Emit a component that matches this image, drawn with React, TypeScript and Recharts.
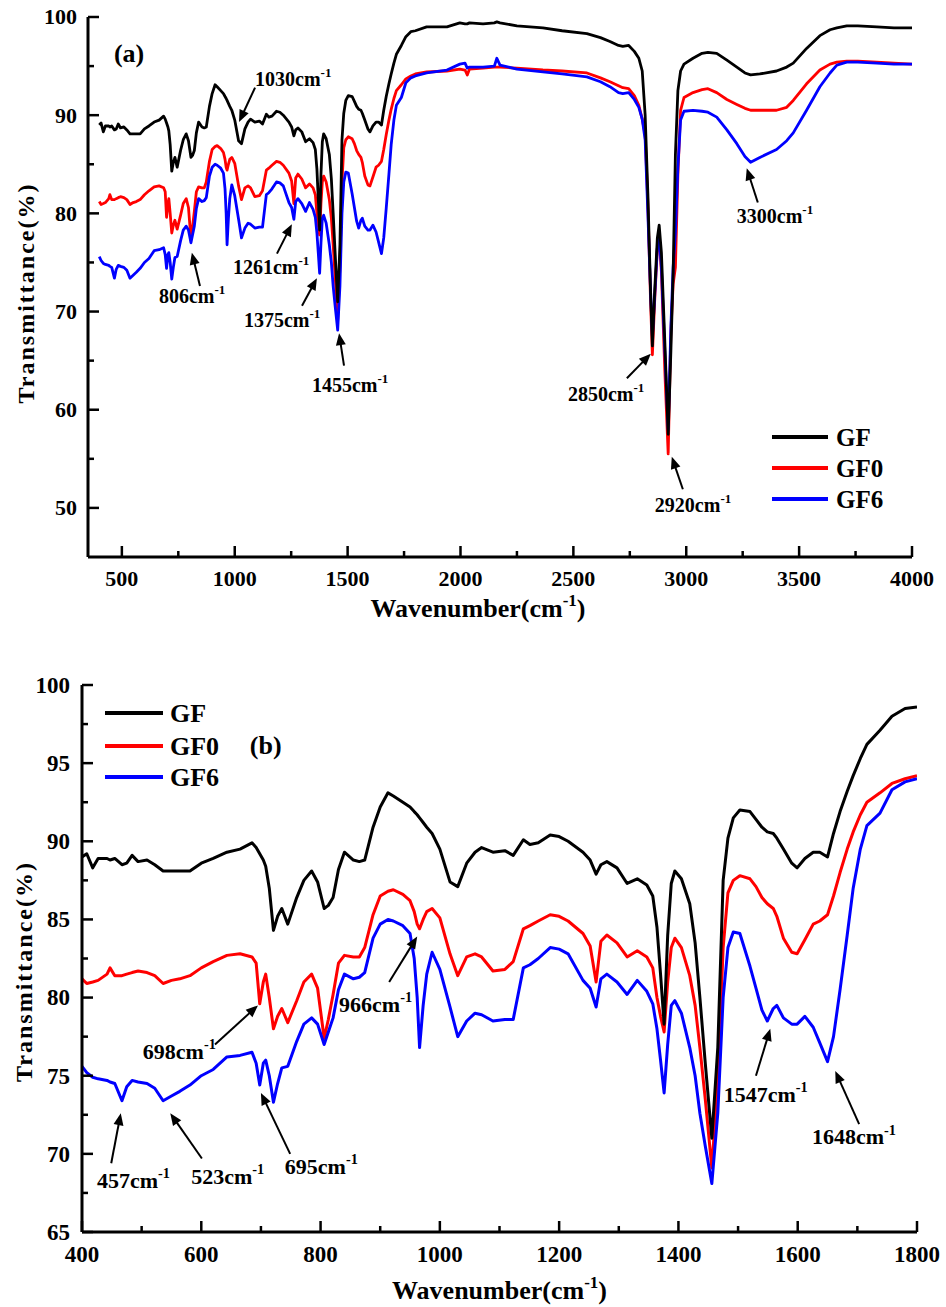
import React from 'react';
import { LineChart, Line, XAxis, YAxis, ReferenceLine, ReferenceDot, Legend } from 'recharts';

// ---------- data (wavenumber in cm-1, transmittance in %) ----------
const wavenumbers = [
  400, 408, 418, 427, 442, 447, 455, 467, 475, 484, 494, 509, 522, 536, 550, 564, 581, 600, 620, 643,
  665, 685, 692, 698, 704, 708, 714, 721, 728, 735, 745, 760, 772, 785, 795, 806, 813, 821, 830, 840,
  855, 865, 874, 888, 900, 913, 922, 938, 950, 957, 962, 966, 972, 978, 987, 1000, 1017, 1030, 1045, 1059,
  1070, 1089, 1109, 1123, 1140, 1151, 1165, 1185, 1200, 1215, 1240, 1252, 1262, 1270, 1280, 1297, 1314, 1331, 1347, 1357,
  1364, 1370, 1376, 1382, 1388, 1394, 1405, 1419, 1428, 1436, 1445, 1456, 1466, 1475, 1483, 1492, 1503, 1520, 1530, 1540,
  1549, 1559, 1565, 1576, 1590, 1599, 1612, 1626, 1637, 1650, 1660, 1671, 1683, 1693, 1705, 1716, 1738, 1758, 1780, 1800,
  1850, 1940, 1997, 2020, 2030, 2040, 2100, 2150, 2161, 2175, 2250, 2365, 2450, 2560, 2620, 2662, 2700, 2719, 2745, 2770,
  2790, 2805, 2818, 2830, 2842, 2850, 2860, 2872, 2880, 2890, 2905, 2920, 2932, 2942, 2952, 2963, 2975, 2990, 3030, 3070,
  3096, 3135, 3180, 3224, 3260, 3285, 3326, 3400, 3445, 3474, 3533, 3592, 3637, 3667, 3711, 3760, 3844, 3920, 4000,
];
const gf = [
  89.0, 89.2, 88.3, 88.9, 88.9, 88.8, 88.9, 88.5, 88.6, 89.1, 88.7, 88.8, 88.5, 88.1, 88.1, 88.1, 88.1, 88.6, 88.9, 89.3,
  89.5, 89.9, 89.6, 89.2, 88.8, 88.4, 87.0, 84.3, 85.2, 85.7, 84.7, 86.4, 87.5, 88.1, 87.4, 85.7, 85.9, 86.4, 88.2, 89.3,
  88.8, 88.7, 88.8, 90.9, 92.2, 93.1, 92.9, 92.5, 92.2, 91.9, 91.7, 91.5, 91.2, 90.9, 90.5, 89.5, 87.4, 87.1, 88.6, 89.3,
  89.6, 89.3, 89.4, 89.1, 90.1, 89.8, 89.9, 90.4, 90.3, 90.0, 89.3, 88.8, 87.9, 88.5, 88.7, 88.3, 87.3, 87.6, 87.2, 86.5,
  84.5, 81.5, 78.3, 84.0, 87.3, 88.1, 87.6, 86.0, 83.5, 80.0, 75.8, 71.0, 76.8, 87.5, 90.2, 91.5, 92.0, 91.9, 91.4, 90.9,
  90.6, 90.5, 90.2, 89.5, 88.6, 88.3, 88.9, 89.3, 89.3, 89.0, 90.5, 91.9, 93.2, 94.2, 95.3, 96.2, 97.1, 98.0, 98.5, 98.6,
  99.0, 99.0, 99.4, 99.3, 99.3, 99.4, 99.3, 99.4, 99.5, 99.4, 99.1, 98.9, 98.6, 98.3, 97.9, 97.5, 97.1, 97.0, 97.1, 96.5,
  95.8, 94.5, 90.0, 82.0, 72.0, 66.5, 72.0, 77.5, 78.8, 76.0, 67.0, 57.5, 66.0, 74.0, 86.0, 92.5, 94.5, 95.2, 95.8, 96.3,
  96.4, 96.3, 95.6, 94.9, 94.3, 94.1, 94.2, 94.5, 94.9, 95.3, 96.8, 98.1, 98.7, 98.9, 99.1, 99.1, 99.0, 98.9, 98.9,
];
const gf0 = [
  81.2, 80.9, 81.0, 81.1, 81.5, 81.9, 81.4, 81.4, 81.5, 81.6, 81.7, 81.6, 81.4, 80.9, 81.1, 81.2, 81.4, 81.9, 82.3, 82.7,
  82.8, 82.6, 82.2, 79.6, 81.0, 81.5, 80.0, 78.0, 78.8, 79.3, 78.4, 79.8, 81.0, 81.5, 80.6, 77.4, 78.6, 80.2, 82.2, 82.7,
  82.6, 82.6, 83.2, 85.3, 86.5, 86.8, 86.9, 86.6, 86.2, 85.5, 84.7, 84.4, 85.0, 85.5, 85.7, 85.1, 82.8, 81.4, 82.6, 82.8,
  82.6, 81.7, 81.8, 82.3, 84.4, 84.6, 84.9, 85.3, 85.2, 84.9, 84.1, 83.3, 81.0, 83.6, 84.0, 83.5, 82.6, 83.0, 82.6, 81.9,
  80.0, 78.8, 77.8, 81.0, 83.2, 83.8, 83.2, 81.4, 79.5, 76.8, 73.5, 69.1, 74.7, 83.2, 86.7, 87.5, 87.8, 87.6, 87.1, 86.4,
  86.0, 85.7, 85.2, 83.8, 82.9, 82.8, 83.7, 84.7, 84.9, 85.3, 86.5, 88.0, 89.5, 90.6, 91.7, 92.5, 93.1, 93.7, 94.0, 94.2,
  94.4, 94.5, 94.7, 94.6, 94.1, 94.7, 94.8, 94.9, 94.9, 94.9, 94.8, 94.6, 94.5, 94.3, 93.8, 93.4, 93.0, 92.8, 92.7, 92.0,
  91.0, 89.6, 88.0, 81.0, 71.0, 65.6, 71.0, 76.5, 77.5, 74.0, 64.0, 55.5, 68.0, 72.8, 74.5, 84.0, 90.5, 91.8, 92.3, 92.6,
  92.7, 92.3, 91.6, 91.1, 90.7, 90.5, 90.5, 90.5, 90.8, 91.5, 93.2, 94.6, 95.2, 95.4, 95.5, 95.5, 95.4, 95.3, 95.2,
];
const gf6 = [
  75.6, 75.2, 74.9, 74.8, 74.7, 74.6, 74.5, 73.4, 74.3, 74.7, 74.6, 74.5, 74.2, 73.4, 73.7, 74.0, 74.4, 75.0, 75.4, 76.2,
  76.3, 76.5, 75.8, 74.4, 75.8, 76.0, 75.0, 73.3, 74.5, 75.5, 75.6, 77.2, 78.3, 78.7, 78.3, 77.0, 77.8, 78.7, 80.5, 81.5,
  81.2, 81.3, 81.6, 83.8, 84.7, 85.0, 84.9, 84.6, 84.1, 82.5, 80.0, 76.8, 79.5, 81.5, 82.9, 81.8, 79.4, 77.5, 78.5, 79.0,
  78.9, 78.5, 78.6, 78.6, 81.9, 82.1, 82.5, 83.2, 83.1, 82.8, 81.1, 80.6, 79.4, 81.2, 81.5, 81.0, 80.2, 81.1, 80.4, 79.6,
  78.0, 76.0, 73.9, 77.0, 79.5, 79.8, 79.0, 76.8, 75.0, 72.6, 70.5, 68.1, 72.6, 80.0, 83.2, 84.2, 84.1, 82.0, 80.6, 79.2,
  78.5, 79.3, 79.5, 78.7, 78.3, 78.3, 78.8, 78.1, 77.1, 75.9, 77.5, 80.5, 84.0, 87.0, 89.5, 91.0, 91.8, 93.3, 93.8, 94.0,
  94.3, 94.6, 95.2, 95.3, 94.8, 94.9, 94.9, 95.0, 95.8, 95.1, 94.7, 94.4, 94.2, 93.9, 93.4, 92.9, 92.3, 92.2, 92.3, 91.6,
  90.8, 89.6, 87.5, 80.0, 72.0, 67.5, 71.5, 76.5, 77.8, 74.5, 66.0, 58.0, 68.5, 74.5, 78.0, 84.7, 89.5, 90.4, 90.5, 90.4,
  90.3, 89.8, 88.5, 87.1, 85.8, 85.2, 85.7, 86.5, 87.4, 88.2, 90.5, 92.9, 94.3, 95.1, 95.4, 95.4, 95.3, 95.2, 95.2,
];

const seriesNames = ['GF', 'GF0', 'GF6'];
const seriesColors = ['#000000', '#ff0000', '#0000ff'];

// tick values and labels
const xTicksA = [500, 750, 1000, 1250, 1500, 1750, 2000, 2250, 2500, 2750, 3000, 3250, 3500, 3750, 4000];
const xLabelsA = [500, 1000, 1500, 2000, 2500, 3000, 3500, 4000];
const yTicksA = [50, 55, 60, 65, 70, 75, 80, 85, 90, 95, 100];
const yLabelsA = [50, 60, 70, 80, 90, 100];
const xTicksB = [400, 500, 600, 700, 800, 900, 1000, 1100, 1200, 1300, 1400, 1500, 1600, 1700, 1800];
const xLabelsB = [400, 600, 800, 1000, 1200, 1400, 1600, 1800];
const yTicksB = [65, 67.5, 70, 72.5, 75, 77.5, 80, 82.5, 85, 87.5, 90, 92.5, 95, 97.5, 100];
const yLabelsB = [65, 70, 75, 80, 85, 90, 95, 100];

// peak annotations: text anchor (wavenumber, %), arrow tail -> head
const annotationsA = [
  { label: '1030', tx: 1090, ty: 93.0, x1: 1090, y1: 92.8, x2: 1019, y2: 89.3 },
  { label: '806', tx: 664, ty: 70.9, x1: 846, y1: 72.6, x2: 810, y2: 76.0 },
  { label: '1261', tx: 992, ty: 73.8, x1: 1187, y1: 75.9, x2: 1253, y2: 78.9 },
  { label: '1375', tx: 1041, ty: 68.4, x1: 1298, y1: 70.6, x2: 1364, y2: 73.4 },
  { label: '1455', tx: 1342, ty: 61.8, x1: 1484, y1: 64.5, x2: 1462, y2: 67.8 },
  { label: '2850', tx: 2476, ty: 60.9, x1: 2737, y1: 63.2, x2: 2843, y2: 65.7 },
  { label: '2920', tx: 2861, ty: 49.6, x1: 2985, y1: 51.9, x2: 2936, y2: 55.2 },
  { label: '3300', tx: 3224, ty: 79.0, x1: 3317, y1: 81.1, x2: 3268, y2: 84.6 },
];
const annotationsB = [
  { label: '966', tx: 831, ty: 79.1, x1: 915, y1: 81.0, x2: 962, y2: 83.9 },
  { label: '698', tx: 502, ty: 76.1, x1: 623, y1: 77.0, x2: 695, y2: 79.5 },
  { label: '457', tx: 425, ty: 67.8, x1: 449, y1: 69.4, x2: 465, y2: 72.6 },
  { label: '523', tx: 583, ty: 68.1, x1: 601, y1: 69.7, x2: 548, y2: 72.6 },
  { label: '695', tx: 740, ty: 68.7, x1: 749, y1: 70.0, x2: 700, y2: 73.9 },
  { label: '1547', tx: 1476, ty: 73.3, x1: 1530, y1: 75.0, x2: 1554, y2: 78.0 },
  { label: '1648', tx: 1624, ty: 70.6, x1: 1703, y1: 71.9, x2: 1663, y2: 75.3 },
];

const dataAll = wavenumbers.map((w, i) => ({ w, GF: gf[i], GF0: gf0[i], GF6: gf6[i] }));
const dataB = dataAll.filter((d) => d.w <= 1800);

const FONT = '"Liberation Serif", "Times New Roman", Times, serif';

type Orient = 'bottom' | 'top' | 'left' | 'right';

function makeTick(orient: Orient, labels: number[], showLabel: boolean, majorLen: number, minorLen: number, fontSize: number, gap: number) {
  return (props: any) => {
    const { x, y, payload } = props;
    const v = payload.value;
    const major = labels.includes(v);
    const len = major ? majorLen : minorLen;
    let x2 = x, y2 = y;
    if (orient === 'bottom') y2 = y - len;
    if (orient === 'top') y2 = y + len;
    if (orient === 'left') x2 = x + len;
    if (orient === 'right') x2 = x - len;
    let label = null;
    if (showLabel && major) {
      if (orient === 'bottom') {
        label = (
          <text x={x} y={y + gap} textAnchor="middle" fontFamily={FONT} fontWeight="bold" fontSize={fontSize} fill="#000">
            {v}
          </text>
        );
      } else if (orient === 'left') {
        label = (
          <text x={x - gap} y={y + fontSize * 0.34} textAnchor="end" fontFamily={FONT} fontWeight="bold" fontSize={fontSize} fill="#000">
            {v}
          </text>
        );
      }
    }
    return (
      <g>
        <line x1={x} y1={y} x2={x2} y2={y2} stroke="#000" strokeWidth={2.5} />
        {label}
      </g>
    );
  };
}

const arrowShape = (props: any) => {
  const { x1, y1, x2, y2 } = props;
  const dx = x2 - x1;
  const dy = y2 - y1;
  const len = Math.hypot(dx, dy) || 1;
  const ux = dx / len;
  const uy = dy / len;
  const hl = 12;
  const hw = 5;
  const bx = x2 - ux * hl;
  const by = y2 - uy * hl;
  const pts = `${x2},${y2} ${bx - uy * hw},${by + ux * hw} ${bx + uy * hw},${by - ux * hw}`;
  return (
    <g>
      <line x1={x1} y1={y1} x2={bx + ux * 2} y2={by + uy * 2} stroke="#000" strokeWidth={2} />
      <polygon points={pts} fill="#000" />
    </g>
  );
};

function textShape(label: string, size: number, sup: boolean, anchor: 'start' | 'middle' = 'start') {
  return (props: any) => {
    const { cx, cy } = props;
    return (
      <text x={cx} y={cy} textAnchor={anchor} fontFamily={FONT} fontWeight="bold" fontSize={size} fill="#000">
        {label}
        {sup ? (
          <tspan dy={-size * 0.45} fontSize={size * 0.65}>
            -1
          </tspan>
        ) : null}
      </text>
    );
  };
}

function xTitle(dyOffset: number, dxOffset: number) {
  return (props: any) => {
    const vb = props.viewBox || {};
    const cx = (vb.x || 0) + (vb.width || 0) / 2 + dxOffset;
    const cy = (vb.y || 0) + dyOffset;
    return (
      <text x={cx} y={cy} textAnchor="middle" fontFamily={FONT} fontWeight="bold" fontSize={26} fill="#000">
        Wavenumber(cm
        <tspan dy={-11} fontSize={17}>
          -1
        </tspan>
        <tspan dy={11}>)</tspan>
      </text>
    );
  };
}

function yTitle(xPos: number, dyOffset: number) {
  return (props: any) => {
    const vb = props.viewBox || {};
    const cy = (vb.y || 0) + (vb.height || 0) / 2 + dyOffset;
    const cx = (vb.x || 0) + xPos;
    return (
      <text
        x={cx}
        y={cy}
        transform={`rotate(-90, ${cx}, ${cy})`}
        textAnchor="middle"
        fontFamily={FONT}
        fontWeight="bold"
        fontSize={24}
        letterSpacing={2}
        fill="#000"
      >
        Transmittance(%)
      </text>
    );
  };
}

function legendContent(lineX1: number, lineX2: number, textX: number, rowY: number[], fontSize: number) {
  return () => (
    <svg width={200} height={rowY[rowY.length - 1] + 20} style={{ overflow: 'visible', display: 'block' }}>
      {seriesNames.map((n, i) => (
        <g key={n}>
          <line x1={lineX1} y1={rowY[i]} x2={lineX2} y2={rowY[i]} stroke={seriesColors[i]} strokeWidth={4} />
          <text x={textX} y={rowY[i] + fontSize * 0.36} fontFamily={FONT} fontWeight="bold" fontSize={fontSize} fill="#000">
            {n}
          </text>
        </g>
      ))}
    </svg>
  );
}

const axisLineStyle = { stroke: '#000', strokeWidth: 3 };
const drawOrder = [1, 2, 0];

function ChartA() {
  return (
    <LineChart width={946} height={640} data={dataAll} margin={{ top: 17, right: 34, bottom: 0, left: 0 }}>
      <XAxis
        dataKey="w"
        type="number"
        domain={[350, 4000]}
        ticks={xTicksA}
        interval={0}
        allowDataOverflow
        height={83}
        axisLine={axisLineStyle}
        tickLine={false}
        tickSize={0}
        tickMargin={0}
        tick={makeTick('bottom', xLabelsA, true, 11, 6, 22, 29)}
        label={{ content: xTitle(60, -22) }}
      />
      <XAxis
        xAxisId="top"
        orientation="top"
        dataKey="w"
        type="number"
        domain={[350, 4000]}
        ticks={xTicksA}
        interval={0}
        allowDataOverflow
        height={0}
        axisLine={axisLineStyle}
        tickLine={false}
        tickSize={0}
        tickMargin={0}
        tick={makeTick('top', xLabelsA, false, 6, 4, 22, 0)}
      />
      <YAxis
        type="number"
        domain={[45, 100]}
        ticks={yTicksA}
        interval={0}
        allowDataOverflow
        width={88}
        axisLine={axisLineStyle}
        tickLine={false}
        tickSize={0}
        tickMargin={0}
        tick={makeTick('left', yLabelsA, true, 11, 6, 22, 11)}
        label={{ content: yTitle(34, 6) }}
      />
      <YAxis
        yAxisId="right"
        orientation="right"
        type="number"
        domain={[45, 100]}
        ticks={yTicksA}
        interval={0}
        allowDataOverflow
        width={0}
        axisLine={axisLineStyle}
        tickLine={false}
        tickSize={0}
        tickMargin={0}
        tick={makeTick('right', yLabelsA, false, 6, 4, 22, 0)}
      />
      <Legend
        layout="vertical"
        align="center"
        verticalAlign="middle"
        wrapperStyle={{ left: 760, top: 420, width: 200, height: 110 }}
        content={legendContent(12, 68, 76, [17, 48, 79], 25)}
      />
      {drawOrder.map((i) => (
        <Line
          key={seriesNames[i]}
          type="linear"
          dataKey={seriesNames[i]}
          stroke={seriesColors[i]}
          strokeWidth={2.8}
          strokeLinejoin="round"
          dot={false}
          activeDot={false}
          isAnimationActive={false}
        />
      ))}
      {annotationsA.map((a) => (
        <ReferenceLine
          key={'arA' + a.label}
          segment={[
            { x: a.x1, y: a.y1 },
            { x: a.x2, y: a.y2 },
          ]}
          shape={arrowShape}
          ifOverflow="visible"
        />
      ))}
      {annotationsA.map((a) => (
        <ReferenceDot key={'txA' + a.label} x={a.tx} y={a.ty} r={0} ifOverflow="visible" shape={textShape(a.label + 'cm', 20, true)} />
      ))}
      <ReferenceDot x={532} y={95.4} r={0} ifOverflow="visible" shape={textShape('(a)', 26, false, 'middle')} />
    </LineChart>
  );
}

function ChartB() {
  return (
    <LineChart width={946} height={657} data={dataB} margin={{ top: 35, right: 29, bottom: 0, left: 0 }}>
      <XAxis
        dataKey="w"
        type="number"
        domain={[400, 1800]}
        ticks={xTicksB}
        interval={0}
        allowDataOverflow
        height={75}
        axisLine={axisLineStyle}
        tickLine={false}
        tickSize={0}
        tickMargin={0}
        tick={makeTick('bottom', xLabelsB, true, 11, 6, 23, 30)}
        label={{ content: xTitle(67, 0) }}
      />
      <XAxis
        xAxisId="top"
        orientation="top"
        dataKey="w"
        type="number"
        domain={[400, 1800]}
        ticks={xTicksB}
        interval={0}
        allowDataOverflow
        height={0}
        axisLine={axisLineStyle}
        tickLine={false}
        tickSize={0}
        tickMargin={0}
        tick={makeTick('top', xLabelsB, false, 6, 4, 22, 0)}
      />
      <YAxis
        type="number"
        domain={[65, 100]}
        ticks={yTicksB}
        interval={0}
        allowDataOverflow
        width={82}
        axisLine={axisLineStyle}
        tickLine={false}
        tickSize={0}
        tickMargin={0}
        tick={makeTick('left', yLabelsB, true, 11, 6, 23, 12)}
        label={{ content: yTitle(32, 13) }}
      />
      <YAxis
        yAxisId="right"
        orientation="right"
        type="number"
        domain={[65, 100]}
        ticks={yTicksB}
        interval={0}
        allowDataOverflow
        width={0}
        axisLine={axisLineStyle}
        tickLine={false}
        tickSize={0}
        tickMargin={0}
        tick={makeTick('right', yLabelsB, false, 6, 4, 22, 0)}
      />
      <Legend
        layout="vertical"
        align="center"
        verticalAlign="middle"
        wrapperStyle={{ left: 95, top: 40, width: 200, height: 110 }}
        content={legendContent(10, 68, 75, [23, 56, 87], 26)}
      />
      {drawOrder.map((i) => (
        <Line
          key={seriesNames[i]}
          type="linear"
          dataKey={seriesNames[i]}
          stroke={seriesColors[i]}
          strokeWidth={3}
          strokeLinejoin="round"
          dot={false}
          activeDot={false}
          isAnimationActive={false}
        />
      ))}
      {annotationsB.map((a) => (
        <ReferenceLine
          key={'arB' + a.label}
          segment={[
            { x: a.x1, y: a.y1 },
            { x: a.x2, y: a.y2 },
          ]}
          shape={arrowShape}
          ifOverflow="visible"
        />
      ))}
      {annotationsB.map((a) => (
        <ReferenceDot key={'txB' + a.label} x={a.tx} y={a.ty} r={0} ifOverflow="visible" shape={textShape(a.label + 'cm', 22, true)} />
      ))}
      <ReferenceDot x={708} y={95.6} r={0} ifOverflow="visible" shape={textShape('(b)', 26, false, 'middle')} />
    </LineChart>
  );
}

export default function App() {
  return (
    <div style={{ position: 'absolute', left: 0, top: 0, width: 946, height: 1307, background: '#fff' }}>
      <div style={{ position: 'absolute', left: 0, top: 0 }}>
        <ChartA />
      </div>
      <div style={{ position: 'absolute', left: 0, top: 650 }}>
        <ChartB />
      </div>
    </div>
  );
}
